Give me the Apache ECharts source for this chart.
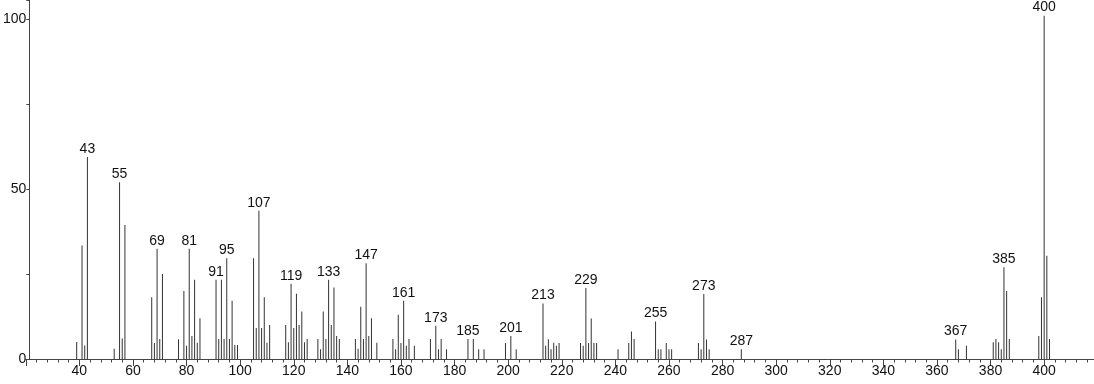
<!DOCTYPE html>
<html><head><meta charset="utf-8">
<script src="https://cdn.jsdelivr.net/npm/echarts@6/dist/echarts.min.js"></script>
<style>html,body{margin:0;padding:0;background:#fff}#c{width:1094px;height:384px}</style>
</head><body><div id="c"></div>
<script>
const mz = [39,41,42,43,53,55,56,57,67,68,69,70,71,77,79,80,81,82,83,84,85,
  91,92,93,94,95,96,97,98,99,105,106,107,108,109,110,111,117,118,119,120,121,122,123,124,125,
  129,130,131,132,133,134,135,136,137,143,144,145,146,147,148,149,151,157,158,159,160,161,162,163,165,
  171,173,174,175,177,185,187,189,191,199,201,203,213,214,215,216,217,218,219,227,228,229,230,231,232,233,
  241,245,246,247,255,256,257,259,260,261,271,272,273,274,275,287,367,368,371,381,382,383,384,385,386,387,
  398,399,400,401,402];
const intensity = [5,33.4,4,59.4,3,52,6,39.4,18.2,4.7,32.4,5.9,25,5.8,20,3.9,32.4,6.8,23.3,4.8,12,
  23.3,5.9,23.3,5.9,29.6,5.9,17.1,4.1,4.1,29.6,9.1,43.6,9.1,18.2,4.8,10,10,4.9,22.1,9.1,19.2,10,14,4.9,5.9,
  5.9,2.9,14,5.9,23.3,10,21,6.8,5.9,5.9,3,15.4,5.9,28.2,6.8,12,4.8,5.9,2.9,13,4.7,17.1,3.9,5.9,3.9,
  5.9,9.8,2.9,5.9,2.9,5.9,5.9,2.9,2.9,4.7,6.8,2.9,16.3,3.9,5.8,2.9,4.8,3.9,4.7,4.7,3.9,20.9,4.7,11.9,4.7,4.7,
  2.9,4.7,8.1,5.9,11,2.9,2.9,4.7,2.9,2.9,4.7,2.9,19.1,5.7,2.9,2.9,5.7,2.9,3.9,4.9,5.9,4.9,2.9,27,20,5.9,
  6.8,18.2,101,30.4,5.9];
const labeledPeaks = [43,55,69,81,91,95,107,119,133,147,161,173,185,201,213,229,255,273,287,367,385,400];
const xTickLabels = [40,60,80,100,120,140,160,180,200,220,240,260,280,300,320,340,360,380,400];
const yTickLabels = [0,50,100];

const FONT = "'Liberation Sans', Arial, sans-serif";
const data = mz.map((m, i) => {
  const item = { value: [m, intensity[i]] };
  if (labeledPeaks.indexOf(m) >= 0) item.label = { show: true };
  return item;
});

const chart = echarts.init(document.getElementById('c'), null, { renderer: 'canvas' });
chart.setOption({
  animation: false,
  backgroundColor: '#fff',
  grid: { left: 25.4, right: 0, top: 0, bottom: 25, containLabel: false },
  xAxis: {
    type: 'value', min: 20, max: 418.6, interval: 20,
    splitLine: { show: false },
    axisLine: { show: true, onZero: false, lineStyle: { color: '#444', width: 1 } },
    axisTick: { show: true, inside: false, length: 7, lineStyle: { color: '#444' } },
    minorTick: { show: true, splitNumber: 5, length: 3.5, lineStyle: { color: '#444' } },
    axisLabel: {
      margin: 5, fontSize: 14, color: '#111', fontFamily: FONT,
      showMinLabel: false, showMaxLabel: false,
      formatter: v => xTickLabels.indexOf(v) >= 0 ? String(v) : ''
    }
  },
  yAxis: {
    type: 'value', min: 0, max: 105.6, interval: 25, offset: -3.6,
    splitLine: { show: false },
    axisLine: { show: true, lineStyle: { color: '#444', width: 1 } },
    axisTick: { show: true, inside: false, length: 3, lineStyle: { color: '#444' } },
    axisLabel: {
      margin: 3, fontSize: 14, color: '#111', fontFamily: FONT,
      formatter: v => yTickLabels.indexOf(v) >= 0 ? String(v) : ''
    }
  },
  series: [{
    type: 'bar',
    barWidth: 1,
    data: data,
    itemStyle: { color: '#333' },
    label: {
      show: false, position: 'top', distance: 1,
      fontSize: 14, color: '#111', fontFamily: FONT,
      formatter: p => String(p.value[0])
    }
  }]
});
</script>
</body></html>
